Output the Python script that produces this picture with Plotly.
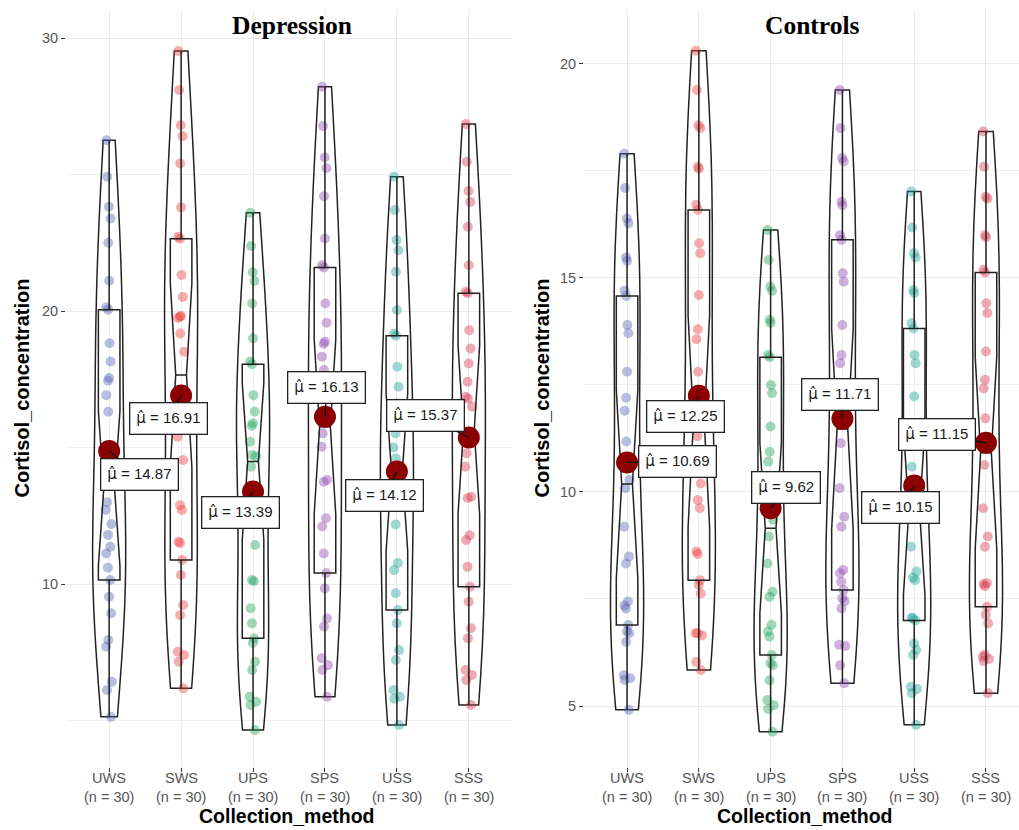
import numpy as np
import plotly.graph_objects as go

categories = ["UWS", "SWS", "UPS", "SPS", "USS", "SSS"]

dep_UWS = [26.26, 24.92, 23.82, 23.39, 22.50, 21.11, 20.14, 20.05, 18.82, 18.15, 17.55, 17.45, 16.92, 16.31, 14.0,
           13.0, 12.2, 11.8, 10.6, 12.71, 11.37, 11.12, 10.15, 9.53, 8.93, 7.95, 7.70, 6.42, 6.12, 5.14]
dep_SWS = [29.53, 28.10, 26.81, 26.41, 25.41, 23.80, 22.72, 22.65, 21.32, 20.52, 19.82, 19.80, 19.75, 19.18, 18.51,
           16.8, 15.4, 11.5, 14.54, 12.89, 12.71, 11.55, 10.88, 10.33, 9.23, 8.86, 7.52, 7.40, 7.15, 6.18]
dep_UPS = [23.60, 22.38, 21.42, 21.10, 20.28, 19.0, 18.15, 18.05, 16.92, 16.31, 15.89, 15.80, 15.21, 14.73, 14.68,
           14.3, 12.9, 11.43, 10.15, 10.10, 9.11, 8.56, 8.01, 7.84, 7.15, 6.85, 5.87, 5.69, 5.57, 4.65]
dep_SPS = [28.22, 26.78, 25.63, 25.23, 24.21, 22.66, 21.68, 21.60, 20.28, 19.57, 18.88, 18.80, 18.33, 17.84, 16.0,
           15.52, 15.03, 13.81, 13.75, 12.41, 12.11, 11.12, 10.40, 9.84, 8.74, 8.44, 7.28, 7.03, 6.85, 5.87]
dep_USS = [24.92, 23.70, 22.60, 22.23, 21.44, 20.04, 19.18, 19.10, 17.96, 17.23, 16.62, 15.52, 15.0, 14.6, 14.3,
           13.9, 13.6, 13.5, 12.18, 10.77, 10.51, 9.66, 9.05, 8.56, 7.58, 7.22, 6.12, 5.87, 5.80, 4.84]
dep_SSS = [26.85, 25.47, 24.40, 24.0, 23.09, 21.68, 20.71, 20.65, 19.30, 18.63, 18.08, 17.41, 16.86, 16.79, 16.5,
           14.79, 14.30, 13.20, 13.15, 11.79, 11.61, 10.63, 9.90, 9.35, 8.38, 8.01, 6.85, 6.67, 6.48, 5.57]

ctl_UWS = [17.90, 17.10, 16.39, 16.28, 15.48, 15.40, 14.70, 14.58, 13.90, 13.71, 12.81, 12.20, 11.90, 11.18, 10.28,
           10.09, 9.19, 8.49, 8.33, 7.44, 7.35, 7.28, 6.89, 6.74, 6.70, 6.50, 5.72, 5.65, 5.61, 4.91]
ctl_SWS = [20.31, 19.39, 18.57, 18.50, 17.60, 17.55, 16.71, 16.59, 15.81, 15.58, 14.60, 13.80, 13.57, 12.81, 12.0,
           11.3, 10.7, 10.2, 9.81, 9.62, 8.61, 8.55, 7.94, 7.83, 7.63, 6.70, 6.70, 6.65, 6.03, 5.84]
ctl_UPS = [16.12, 15.42, 14.80, 14.70, 14.02, 13.95, 13.20, 13.15, 12.50, 12.31, 11.53, 10.94, 10.71, 9.9, 9.35,
           8.96, 8.33, 7.67, 7.55, 6.9, 6.74, 6.62, 6.19, 6.00, 5.95, 5.6, 5.14, 5.02, 4.93, 4.40]
ctl_SPS = [19.39, 18.50, 17.80, 17.72, 16.78, 16.70, 16.0, 15.89, 15.11, 14.91, 13.90, 13.20, 13.01, 12.3, 11.8,
           11.14, 10.09, 9.42, 9.19, 8.18, 8.10, 7.9, 7.71, 7.52, 7.45, 7.28, 6.43, 6.40, 5.95, 5.53]
ctl_USS = [17.02, 16.18, 15.58, 15.48, 14.72, 14.65, 13.94, 13.82, 13.20, 13.01, 12.23, 11.4, 10.59, 10.0, 9.7,
           9.4, 8.72, 8.14, 8.0, 7.94, 7.06, 7.05, 7.00, 6.46, 6.31, 6.19, 5.45, 5.40, 5.30, 4.56]
ctl_SSS = [18.42, 17.60, 16.90, 16.85, 16.0, 15.95, 15.19, 15.13, 14.41, 14.18, 13.28, 12.62, 12.42, 11.72, 11.2,
           10.63, 9.62, 8.96, 8.72, 7.87, 7.85, 7.80, 7.32, 7.13, 6.93, 6.2, 6.15, 6.10, 6.05, 5.30]

means_dep = [14.87, 16.91, 13.39, 16.13, 14.12, 15.37]
means_ctl = [10.69, 12.25, 9.62, 11.71, 10.15, 11.15]

panel_titles = ["Depression", "Controls"]
y_title = "Cortisol_concentration"
x_title = "Collection_method"

# ---- styling ----
colors = ["#5563B5", "#EE3B3B", "#1FA35C", "#8E44AD", "#1C9F94", "#D9364F"]
label_offsets_dep = [(30, 23), (-13, 23), (-13, 21), (2, -29), (-12, 24), (-43, -22)]
label_offsets_ctl = [(50, -1), (-13, 21), (15, -21), (-2, -24), (-14, 22), (-49, -8)]

panels = [
    dict(data=[dep_UWS, dep_SWS, dep_UPS, dep_SPS, dep_USS, dep_SSS], means=means_dep,
         offs=label_offsets_dep, xa="x", ya="y"),
    dict(data=[ctl_UWS, ctl_SWS, ctl_UPS, ctl_SPS, ctl_USS, ctl_SSS], means=means_ctl,
         offs=label_offsets_ctl, xa="x2", ya="y2"),
]

W, H = 1019, 830
top_px, bot_px = 10, 767

fig = go.Figure()
annotations = []

ph = bot_px - top_px


def py(px):
    return (bot_px - px) / ph


tick_font = dict(family="Liberation Sans, Arial", size=14.5, color="#555555")

for p in panels:
    for i, cat in enumerate(categories):
        vals = p["data"][i]
        fig.add_trace(go.Violin(
            x=[cat] * len(vals), y=vals, xaxis=p["xa"], yaxis=p["ya"],
            width=0.46, spanmode="hard",
            line=dict(color="#222222", width=1.5), fillcolor="rgba(0,0,0,0)",
            points="all", pointpos=0, jitter=0.25,
            marker=dict(size=10, color=colors[i], opacity=0.42, line=dict(width=0)),
            box_visible=False, meanline_visible=False, showlegend=False, hoverinfo="y",
        ))
    for i, cat in enumerate(categories):
        vals = p["data"][i]
        fig.add_trace(go.Box(
            x=[cat] * len(vals), y=vals, xaxis=p["xa"], yaxis=p["ya"],
            width=0.3, notched=True, boxpoints=False, whiskerwidth=0,
            line=dict(color="#222222", width=1.5), fillcolor="rgba(0,0,0,0)",
            showlegend=False, hoverinfo="skip",
        ))
    fig.add_trace(go.Scatter(
        x=categories, y=p["means"], xaxis=p["xa"], yaxis=p["ya"], mode="markers",
        marker=dict(size=22, color="#8B0000"), showlegend=False, hoverinfo="y",
    ))
    for i, cat in enumerate(categories):
        m = p["means"][i]
        dx, dy = p["offs"][i]
        annotations.append(dict(
            x=cat, y=m, xref=p["xa"], yref=p["ya"], ax=dx, ay=dy,
            text="<span style='font-family:DejaVu Sans'>\u03bc\u0302</span> = %.2f" % m,
            showarrow=True, arrowhead=0,
            arrowwidth=1.3, arrowcolor="#111111", standoff=0,
            font=dict(family="Liberation Sans, Arial", size=15, color="#1a1a1a"),
            bgcolor="white", bordercolor="#222222", borderwidth=1.3, borderpad=6,
        ))
    # category tick labels (two lines) placed under the axis
    for i, cat in enumerate(categories):
        n = len(p["data"][i])
        for txt, ypx in [(cat, 778), ("(n = %d)" % n, 797)]:
            annotations.append(dict(
                x=cat, y=py(ypx), xref=p["xa"], yref="paper", text=txt, showarrow=False,
                xanchor="center", yanchor="middle", font=tick_font,
            ))

# panel titles
for txt, xc in zip(panel_titles, [292, 812]):
    annotations.append(dict(text="<b>%s</b>" % txt, x=xc / W, y=py(25), xref="paper", yref="paper",
                            showarrow=False, xanchor="center", yanchor="middle",
                            font=dict(family="Liberation Serif, Times New Roman", size=25.5, color="black")))
# y axis titles
for xc in [21, 541]:
    annotations.append(dict(text="<b>%s</b>" % y_title, x=xc / W, y=0.5, xref="paper", yref="paper",
                            showarrow=False, textangle=-90, xanchor="center", yanchor="middle",
                            font=dict(family="Liberation Sans, Arial", size=20, color="black")))
# x axis titles
for xc in [287, 805]:
    annotations.append(dict(text="<b>%s</b>" % x_title, x=xc / W, y=py(816), xref="paper", yref="paper",
                            showarrow=False, xanchor="center", yanchor="middle", borderpad=0,
                            font=dict(family="Liberation Sans, Arial", size=19.5, color="black")))

grid = "#EBEBEB"
common_x = dict(type="category", categoryorder="array", categoryarray=categories,
                showgrid=True, gridcolor=grid, gridwidth=1.3, zeroline=False, showline=False,
                ticks="outside", ticklen=4, tickcolor="#333333", tickwidth=1.2,
                showticklabels=False, tickvals=categories)
common_y = dict(showgrid=True, gridcolor=grid, gridwidth=1.3, zeroline=False, showline=False,
                ticks="outside", ticklen=4, tickcolor="#333333", tickwidth=1.2,
                tickfont=tick_font)

fig.update_layout(
    width=W, height=H,
    margin=dict(l=0, r=0, t=top_px, b=H - bot_px),
    paper_bgcolor="white", plot_bgcolor="white",
    violinmode="overlay", boxmode="overlay",
    xaxis=dict(domain=[66 / W, 512 / W], range=[-0.6, 5.6], anchor="y", **common_x),
    xaxis2=dict(domain=[584 / W, 1.0], range=[-0.6, 5.46], anchor="y2", **common_x),
    yaxis=dict(domain=[0, 1], anchor="x", range=[3.297, 31.03], tickvals=[10, 20, 30],
               minor=dict(tickvals=[5, 15, 25], showgrid=True, gridcolor="#F0F0F0", gridwidth=1), **common_y),
    yaxis2=dict(domain=[0, 1], anchor="x2", range=[3.575, 21.26], tickvals=[5, 10, 15, 20],
                minor=dict(tickvals=[7.5, 12.5, 17.5], showgrid=True, gridcolor="#F0F0F0", gridwidth=1), **common_y),
    annotations=annotations,
)

fig.write_html("out.html", config={"displayModeBar": False},
               post_script="document.body.style.margin='0';")
